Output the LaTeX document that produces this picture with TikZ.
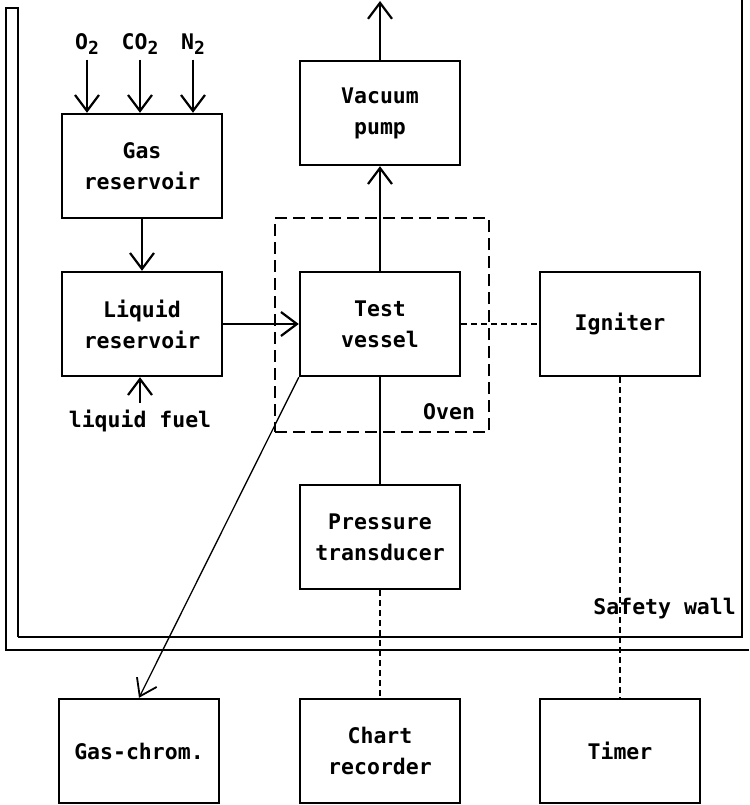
\documentclass[tikz,border=0pt]{standalone}
\usepackage{fontspec}
\setmonofont{DejaVu Sans Mono}
\usetikzlibrary{arrows.meta}
\tikzset{
  txt/.style={font=\ttfamily\bfseries\fontsize{21.5}{31}\selectfont, align=center, inner sep=1pt},
  box/.style={txt, draw, line width=2.4pt, minimum width=160pt, minimum height=104pt},
  arr/.style={line width=2.2pt, -{Straight Barb[length=16pt,width=24pt,line width=2.2pt]}},
  conn/.style={line width=2.2pt},
  dconn/.style={line width=2.2pt, dash pattern=on 6pt off 4pt},
  wall/.style={line width=2.2pt},
  ovenbox/.style={draw, line width=2.4pt, dash pattern=on 12pt off 6pt, minimum width=214pt, minimum height=214pt}
}
\newcommand{\sub}[1]{\raisebox{-5pt}{\fontsize{18}{20}\selectfont #1}}
\begin{document}
\begin{tikzpicture}[x=1pt,y=-1pt]
\useasboundingbox (0,0) rectangle (749,805);
% safety wall
\draw[wall] (18,637) -- (18,8) -- (6,8) -- (6,650) -- (749,650);
\draw[wall] (18,637) -- (742,637) -- (742,0);
\node[txt, anchor=east] (sw) at (737,609) {Safety wall};
% oven
\node[ovenbox] (oven) at (382,325) {};
\node[txt, anchor=south east] (ovenlbl) at (oven.south east) [xshift=-14pt, yshift=12pt] {Oven};
% boxes
\node[box] (gas) at (142,166) {Gas\\reservoir};
\node[box] (liq) at (142,324) {Liquid\\reservoir};
\node[box] (vac) at (380,113) {Vacuum\\pump};
\node[box] (test) at (380,324) {Test\\vessel};
\node[box] (ign) at (620,324) {Igniter};
\node[box] (pres) at (380,537) {Pressure\\transducer};
\node[box] (gc) at (139,751) {Gas-chrom.};
\node[box] (chart) at (380,751) {Chart\\recorder};
\node[box] (timer) at (620,751) {Timer};
% gas labels
\node[txt] (o2) at (87,44) {O\sub{2}};
\node[txt] (co2) at (140,44) {CO\sub{2}};
\node[txt] (n2) at (193,44) {N\sub{2}};
\node[txt] (lf) at (140,421) {liquid fuel};
\coordinate (out) at (380,1);
% connectors
\draw[arr] ([yshift=-4pt]o2.south) -- (o2.south |- gas.north);
\draw[arr] ([yshift=-4pt]co2.south) -- (co2.south |- gas.north);
\draw[arr] ([yshift=-4pt]n2.south) -- (n2.south |- gas.north);
\draw[arr] (gas) -- (liq);
\draw[arr] ([yshift=6pt]lf.north) -- (lf.north |- liq.south);
\draw[arr] (liq) -- (test);
\draw[arr] (test) -- (vac);
\draw[arr] (vac) -- (out);
\draw[dconn] (test) -- (ign);
\draw[conn] (test) -- (pres);
\draw[dconn] (pres) -- (chart);
\draw[dconn] (ign) -- (timer);
\draw[line width=1.3pt, -{Straight Barb[length=16pt,width=22pt,line width=1.8pt]}] (test.south west) -- (gc.north);
\end{tikzpicture}
\end{document}
